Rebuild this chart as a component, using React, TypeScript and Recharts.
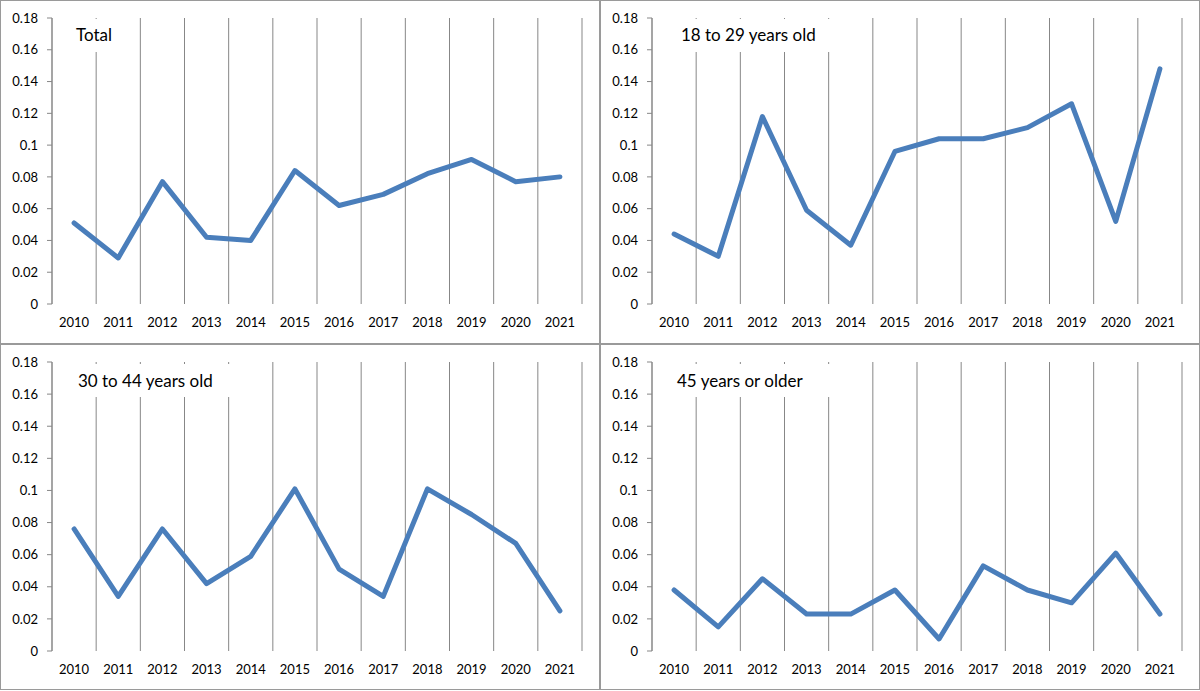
import React from 'react';
import { LineChart, Line, XAxis, YAxis, CartesianGrid } from 'recharts';

const years = ['2010', '2011', '2012', '2013', '2014', '2015', '2016', '2017', '2018', '2019', '2020', '2021'];
const totalValues = [0.051, 0.029, 0.077, 0.042, 0.040, 0.084, 0.062, 0.069, 0.082, 0.091, 0.077, 0.080];
const age18to29Values = [0.044, 0.030, 0.118, 0.059, 0.037, 0.096, 0.104, 0.104, 0.111, 0.126, 0.052, 0.148];
const age30to44Values = [0.076, 0.034, 0.076, 0.042, 0.059, 0.101, 0.051, 0.034, 0.101, 0.085, 0.067, 0.025];
const age45plusValues = [0.038, 0.015, 0.045, 0.023, 0.023, 0.038, 0.0075, 0.053, 0.038, 0.030, 0.061, 0.023];
const yTicks = [0, 0.02, 0.04, 0.06, 0.08, 0.1, 0.12, 0.14, 0.16, 0.18];
const panelTitles = ['Total', '18 to 29 years old', '30 to 44 years old', '45 years or older'];

const FONT = 'Lato, "Open Sans", sans-serif';
const GRID = '#878787';
const LINE = '#4a7ebb';

const boundaryTicks = years.map((_, i) => i).concat([years.length]);
const centerTicks = years.map((_, i) => i + 0.5);

type PanelProps = {
  title: string;
  values: number[];
  left: number;
  top: number;
  height: number;
  marginTop: number;
  marginBottom: number;
  box: { left: number; top: number; width: number; height: number; padLeft: number; padTop: number };
};

function Panel({ title, values, left, top, height, marginTop, marginBottom, box }: PanelProps) {
  const data = years.map((y, i) => ({ pos: i + 0.5, year: y, value: values[i] }));
  return (
    <div style={{ position: 'absolute', left, top, width: 600, height }}>
      <div style={{ position: 'absolute', left: 0, top: 0 }}>
        <LineChart width={600} height={height} data={data} margin={{ top: marginTop, right: 18, bottom: marginBottom, left: 0 }}>
          <CartesianGrid xAxisId="grid" vertical horizontal={false} stroke={GRID} strokeWidth={1} />
          <XAxis
            xAxisId="grid"
            dataKey="pos"
            type="number"
            domain={[0, 12]}
            ticks={boundaryTicks}
            interval={0}
            height={0}
            tickSize={6}
            tickFormatter={() => ''}
            axisLine={{ stroke: GRID }}
            tickLine={{ stroke: GRID }}
          />
          <XAxis
            xAxisId="labels"
            dataKey="pos"
            type="number"
            domain={[0, 12]}
            ticks={centerTicks}
            interval={0}
            height={30}
            tickSize={0}
            tickMargin={14}
            axisLine={false}
            tickLine={false}
            tickFormatter={(v: number) => years[Math.floor(v)]}
            tick={{ fill: '#000', fontSize: 13, fontFamily: FONT }}
          />
          <YAxis
            type="number"
            domain={[0, 0.18]}
            ticks={yTicks}
            interval={0}
            width={52}
            tickSize={5}
            tickMargin={9}
            axisLine={{ stroke: GRID }}
            tickLine={{ stroke: GRID }}
            tickFormatter={(v: number) => String(v)}
            tick={{ fill: '#000', fontSize: 13, fontFamily: FONT }}
          />
          <Line
            xAxisId="grid"
            type="linear"
            dataKey="value"
            stroke={LINE}
            strokeWidth={5}
            dot={false}
            activeDot={false}
            isAnimationActive={false}
            strokeLinejoin="round"
            strokeLinecap="round"
          />
        </LineChart>
      </div>
      <div
        style={{
          position: 'absolute',
          left: box.left,
          top: box.top,
          width: box.width,
          height: box.height,
          background: '#fff',
          boxSizing: 'border-box',
          paddingLeft: box.padLeft,
          paddingTop: box.padTop,
          fontFamily: FONT,
          fontSize: 17,
          lineHeight: '16px',
          color: '#000',
          whiteSpace: 'nowrap',
        }}
      >
        {title}
      </div>
      <div
        style={{
          position: 'absolute',
          left: 0,
          top: 0,
          width: 600,
          height,
          boxSizing: 'border-box',
          border: '1px solid #9a9a9a',
          pointerEvents: 'none',
        }}
      />
    </div>
  );
}

export default function App() {
  return (
    <div style={{ position: 'absolute', left: 0, top: 0, width: 1200, height: 691, background: '#fff' }}>
      <Panel
        title={panelTitles[0]}
        values={totalValues}
        left={0}
        top={0}
        height={344}
        marginTop={18}
        marginBottom={10}
        box={{ left: 62, top: 19, width: 70, height: 33, padLeft: 14, padTop: 8 }}
      />
      <Panel
        title={panelTitles[1]}
        values={age18to29Values}
        left={600}
        top={0}
        height={344}
        marginTop={18}
        marginBottom={10}
        box={{ left: 66, top: 19, width: 172, height: 33, padLeft: 15, padTop: 8 }}
      />
      <Panel
        title={panelTitles[2]}
        values={age30to44Values}
        left={0}
        top={344}
        height={346}
        marginTop={18}
        marginBottom={9}
        box={{ left: 63, top: 20, width: 172, height: 33, padLeft: 15, padTop: 9 }}
      />
      <Panel
        title={panelTitles[3]}
        values={age45plusValues}
        left={600}
        top={344}
        height={346}
        marginTop={18}
        marginBottom={9}
        box={{ left: 62, top: 20, width: 172, height: 33, padLeft: 15, padTop: 9 }}
      />
    </div>
  );
}
